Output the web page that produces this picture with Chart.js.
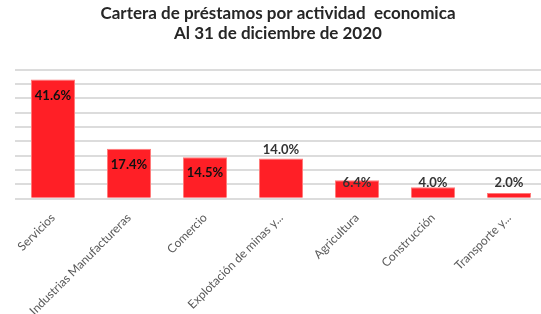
<!DOCTYPE html>
<html>
<head>
<meta charset="utf-8">
<script src="https://cdn.jsdelivr.net/npm/chart.js@4/dist/chart.umd.min.js"></script>
<style>
    html, body { margin: 0; padding: 0; background: #fff; overflow: hidden; }
    #wrap { width: 541px; height: 314px; }
</style>
</head>
<body>
<div id="wrap"><canvas id="loanChart"></canvas></div>
<script>
// Data
const titleLines = ['Cartera de préstamos por actividad  economica', 'Al 31 de diciembre de 2020'];
const categories = ['Servicios', 'Industrias Manufactureras', 'Comercio', 'Explotación de minas y...', 'Agricultura', 'Construcción', 'Transporte y...'];
const shares = [41.6, 17.4, 14.5, 14.0, 6.4, 4.0, 2.0];

// where each value label sits (Excel kept them in odd spots)
const labelSpot = ['inside', 'inside', 'inside', 'above', 'base', 'base', 'base'];

// the original plot runs a few px past the right edge of the picture
const stretchRight = {
    id: 'stretchRight',
    afterLayout(chart) {
        const extra = 6;
        const x = chart.scales.x;
        chart.chartArea.right += extra;
        chart.chartArea.width += extra;
        x.right += extra;
        x.width += extra;
        x.configure();
    }
};

const valueLabels = {
    id: 'valueLabels',
    afterDatasetsDraw(chart) {
        const ctx = chart.ctx;
        const meta = chart.getDatasetMeta(0);
        const base = chart.scales.y.getPixelForValue(0);
        ctx.save();
        ctx.font = 'bold 13px Lato, "Open Sans", sans-serif';
        ctx.textAlign = 'center';
        ctx.textBaseline = 'middle';
        meta.data.forEach((bar, i) => {
            let y;
            if (labelSpot[i] === 'inside') y = bar.y + 16;
            else if (labelSpot[i] === 'above') y = bar.y - 9;
            else y = base - 16;
            ctx.fillStyle = labelSpot[i] === 'inside' ? '#111' : '#333';
            ctx.fillText(shares[i].toFixed(1) + '%', bar.x, y);
        });
        ctx.restore();
    }
};

document.addEventListener('DOMContentLoaded', function () {
    const ctx = document.getElementById('loanChart').getContext('2d');
    new Chart(ctx, {
        type: 'bar',
        data: {
            labels: categories,
            datasets: [{
                data: shares,
                backgroundColor: '#ff1f26',
                borderColor: '#ff7a7a',
                borderWidth: 1,
                barPercentage: 0.58,
                categoryPercentage: 1.0
            }]
        },
        options: {
            responsive: true,
            maintainAspectRatio: false,
            animation: false,
            layout: { padding: { left: 15, right: 0, top: 3, bottom: 0 } },
            plugins: {
                legend: { display: false },
                tooltip: { enabled: false },
                title: {
                    display: true,
                    text: titleLines,
                    color: '#262626',
                    font: { family: 'Lato, "Open Sans", sans-serif', size: 17, weight: 'bold', lineHeight: 1.2 },
                    padding: { top: 0, bottom: 26 }
                }
            },
            scales: {
                x: {
                    grid: { display: false },
                    border: { display: false },
                    // labels are allowed to hang a bit lower than Chart.js reserves
                    afterFit: (scale) => { scale.height -= 8; },
                    ticks: {
                        autoSkip: false,
                        maxRotation: 45,
                        minRotation: 45,
                        padding: 4,
                        color: '#595959',
                        font: { family: 'Lato, "Open Sans", sans-serif', size: 12 }
                    }
                },
                y: {
                    min: 0,
                    max: 45,
                    ticks: { display: false, stepSize: 5 },
                    border: { display: false },
                    grid: { color: '#dcdcdc', lineWidth: 2, drawTicks: false }
                }
            }
        },
        plugins: [stretchRight, valueLabels]
    });
});
</script>
</body>
</html>
